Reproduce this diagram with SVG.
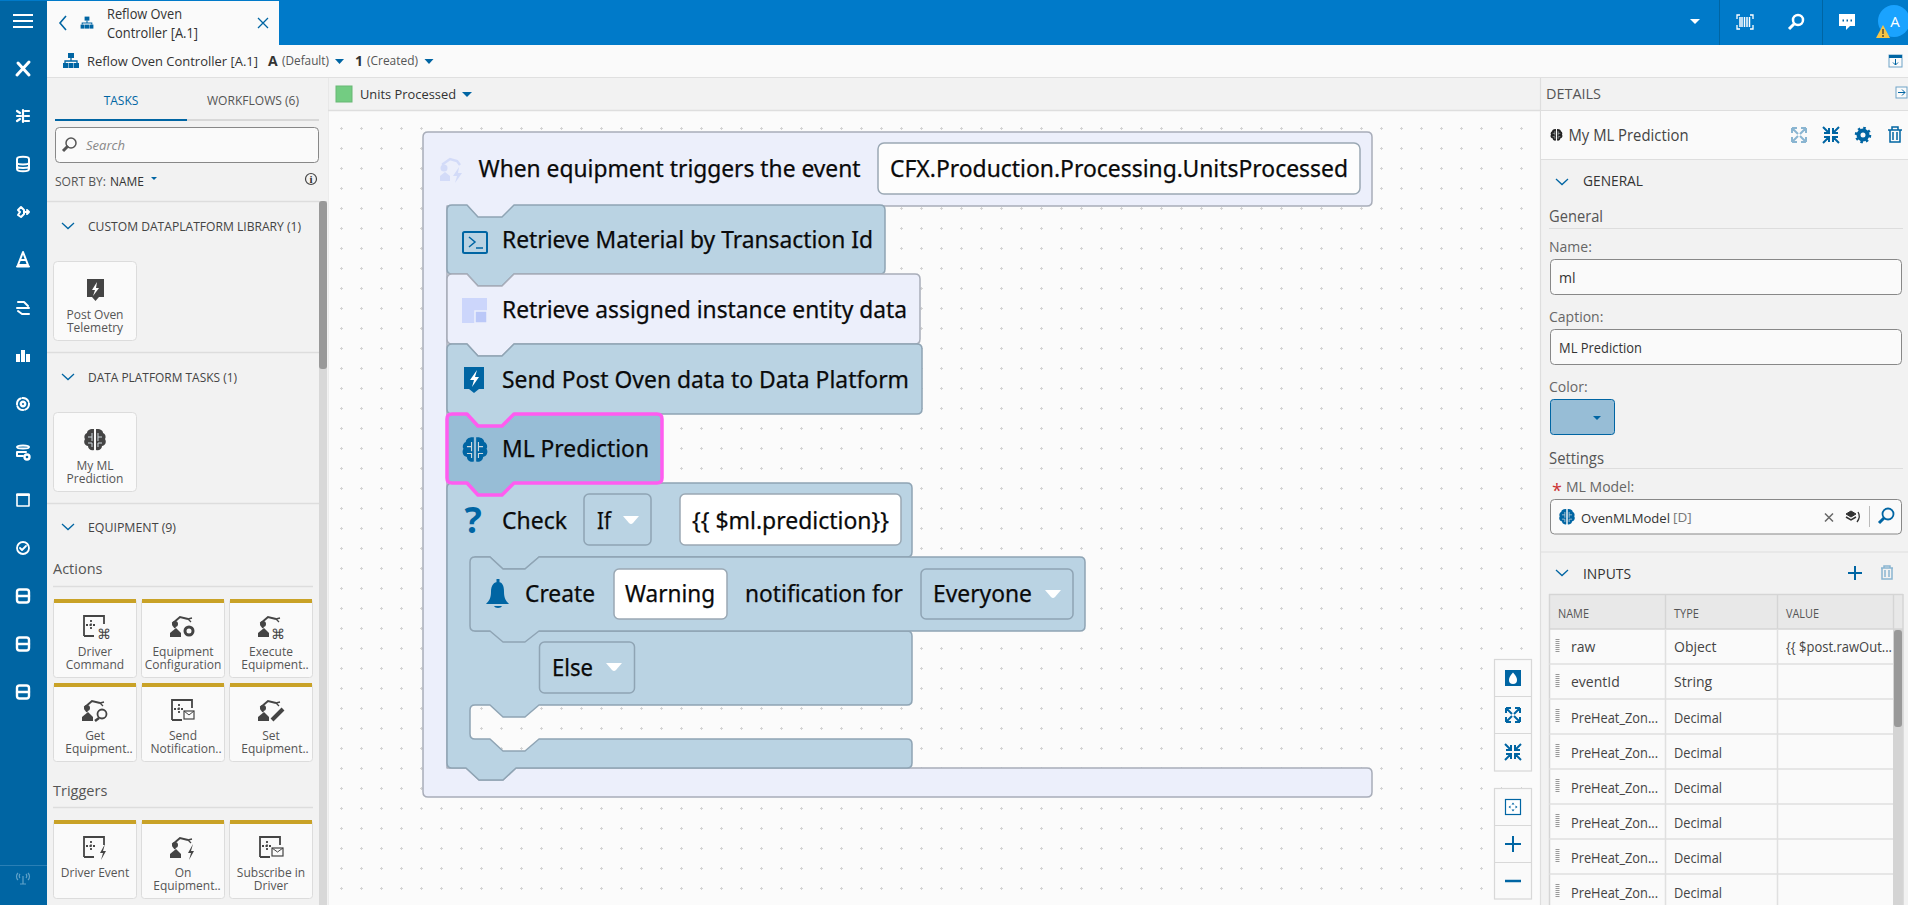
<svg xmlns="http://www.w3.org/2000/svg" xmlns:xlink="http://www.w3.org/1999/xlink" width="1908" height="905" viewBox="0 0 1908 905">
<style>
text{font-family:"Open Sans","Noto Sans","Liberation Sans",sans-serif;font-size:14px;fill:#4a4a4a}
.b{font-family:"Noto Sans","Open Sans",sans-serif;font-size:24px;fill:#0a0a0a;stroke:#0a0a0a;stroke-width:.25}
.blk{fill:#bad3e3;stroke:#8fa4b4;stroke-width:1.5;stroke-linejoin:round}
.lt{fill:#eceffb;stroke:#a8adb9;stroke-width:1.5;stroke-linejoin:round}
.wbox{fill:#fff;stroke:#9aa8b4;stroke-width:1.5}
.dd{fill:#bad3e3;stroke:#8fa4b4;stroke-width:1.5}
.card{fill:#fafafa;stroke:#dcdcdc;stroke-width:1}
.gold{fill:#c9a227}
.ct{font-size:12px;fill:#555;text-anchor:middle}
.sec{font-size:13px;fill:#444}
.hd{font-size:15.500px;fill:#555}
.lab{font-size:14px;fill:#666}
.inp{fill:#fafafa;stroke:#888;stroke-width:1}
.tl{stroke:#e0e0e0;stroke-width:1.5;fill:none}
.rn{font-size:14px;fill:#444}
.th{font-size:12px;fill:#555}
.side{fill:none;stroke:#fff;stroke-width:2.4;stroke-linecap:round;stroke-linejoin:round}
.tw{fill:#fff}
.div{stroke:#ddd;stroke-width:1.5}
</style>
<defs>
<pattern id="dots" x="0" y="0" width="20" height="20" patternUnits="userSpaceOnUse"><path d="M0,8.500H3M1.500,7V10" stroke="#d4d4d4" stroke-width="1"/></pattern>
<symbol id="chev" viewBox="0 0 14 8" overflow="visible"><path d="M1,1L7,6.500L13,1" fill="none" stroke="#0065a3" stroke-width="1.300"/></symbol>
<g id="hier"><rect x="-3" y="-8" width="6" height="5" fill="#0065a3"/><path d="M0,-3V0M-6,2V0H6V2" fill="none" stroke="#0065a3" stroke-width="1.300"/><rect x="-8" y="2" width="5" height="5" fill="#0065a3"/><rect x="-2.500" y="2" width="5" height="5" fill="#0065a3"/><rect x="3" y="2" width="5" height="5" fill="#0065a3"/></g>
<g id="brain"><path d="M-2,-11C-6,-11 -8,-9 -8,-7C-11,-6 -11,-2 -10,-1C-12,2 -10,6 -7,6C-7,9 -4,11 -1,10V-11ZM2,-11C6,-11 8,-9 8,-7C11,-6 11,-2 10,-1C12,2 10,6 7,6C7,9 4,11 1,10V-11Z"/><path d="M-7,-3H-3M-3,-7V1M-7,3H-3V7M7,-3H3M3,-7V1M7,3H3V7" stroke="#cfd8dd" stroke-width="1" fill="none"/></g>
<g id="robot"><path d="M-7,1L-9,-4L-2,-10L6,-8" fill="none" stroke="#444" stroke-width="2"/><circle cx="-7" cy="-3" r="3" fill="#444"/><path d="M-12,10V6L-6,1L-1,6V10Z" fill="#444"/><path d="M6,-8L9,-5M6,-8L10,-9" stroke="#444" stroke-width="1.300" fill="none"/></g>
<g id="board"><path d="M-11,9V-11H9V-3M-11,9H-1" fill="none" stroke="#444" stroke-width="1.800"/><path d="M-4,-7V3M-9,-2H1" stroke="#444" stroke-width="1.800" stroke-dasharray="2 1.500" fill="none"/></g>
<g id="drag"><path d="M0,-7V7" stroke="#999" stroke-width="4" stroke-dasharray="1 1"/></g>
<g id="expand"><path d="M-7,-7L-1,-1M-7,-7H-2M-7,-7V-2M7,-7L1,-1M7,-7H2M7,-7V-2M-7,7L-1,1M-7,7H-2M-7,7V2M7,7L1,1M7,7H2M7,7V2" fill="none" stroke-width="2"/></g>
<g id="shrink"><path d="M-8,-8L-2,-2M-2,-7V-2H-7M8,-8L2,-2M2,-7V-2H7M-8,8L-2,2M-2,7V2H-7M8,8L2,2M2,7V2H7" fill="none" stroke-width="2"/></g>
<g id="srv"><rect x="-6" y="-6.500" width="12" height="13" rx="2.500"/><path d="M-6,0H6"/></g>
</defs>

<rect width="1908" height="905" fill="#fafafa"/>

<g id="canvas">
<rect x="328" y="110" width="1212" height="795" fill="#fbfbfb"/>
<rect x="330" y="112" width="1208" height="793" fill="url(#dots)"/>
</g>

<g id="topbar">
<rect width="1908" height="45" fill="#007ac9"/>
<rect x="47" y="1" width="232" height="44" fill="#fafafa"/>
<path d="M66,16L60,23L66,30" fill="none" stroke="#0065a3" stroke-width="1.600"/>
<use xlink:href="#hier" transform="translate(87,23) scale(.8)"/>
<text x="107" y="19" textLength="75" lengthAdjust="spacingAndGlyphs" style="fill:#333">Reflow Oven</text>
<text x="107" y="38" textLength="91" lengthAdjust="spacingAndGlyphs" style="fill:#333">Controller [A.1]</text>
<path d="M258,18L268,28M268,18L258,28" stroke="#0065a3" stroke-width="1.300"/>
<path d="M1690,19H1700L1695,24Z" fill="#fff"/>
<path d="M1719.500,0V45M1822.500,0V45" stroke="#0065a3" stroke-width="1"/>
<g transform="translate(1745,22)" fill="none" stroke="#fff"><path d="M-8,-3V-7H-5M5,-7H8V-3M-8,3V7H-5M5,7H8V3" stroke-width="1.300"/><path d="M-5,-5V5M-3,-5V5M-.5,-5V5M2,-5V5M4.500,-5V5" stroke-width="1.500"/></g>
<g transform="translate(1796,22)" fill="none" stroke="#fff" stroke-width="2.500"><circle cx="2" cy="-2" r="5"/><path d="M-2,2L-7,7" stroke-width="3"/></g>
<path d="M1839,14H1855V26H1850L1846,30V26H1839Z" fill="#fff"/><path d="M1842.500,20.500H1844M1846.500,20.500H1848M1850.500,20.500H1852" stroke="#0065a3" stroke-width="2"/>
<circle cx="1894" cy="21" r="16" fill="#1aa3ff"/>
<text x="1895" y="27" text-anchor="middle" style="font-size:15px;fill:#fff">A</text>
<path d="M1883,25L1890,38H1876Z" fill="#f6c445"/><path d="M1883,29V34M1883,35V37" stroke="#333" stroke-width="1.200"/>
</g>

<g id="subheader">
<rect y="45" x="47" width="1861" height="32.500" fill="#fafafa"/>
<path d="M47,77.500H1908" stroke="#e0e0e0" stroke-width="1"/>
<use xlink:href="#hier" transform="translate(71,61)"/>
<text x="87" y="66" textLength="171" lengthAdjust="spacingAndGlyphs" style="font-size:13.500px;fill:#333">Reflow Oven Controller [A.1]</text>
<text x="268" y="66" style="font-weight:700;fill:#333">A</text>
<text x="282" y="65" textLength="47" lengthAdjust="spacingAndGlyphs" style="font-size:13px;fill:#555">(Default)</text>
<path d="M335,59H344L339.500,64Z" fill="#0065a3"/>
<text x="355" y="66" style="font-weight:700;fill:#333">1</text>
<text x="367" y="65" textLength="51" lengthAdjust="spacingAndGlyphs" style="font-size:13px;fill:#555">(Created)</text>
<path d="M424.500,59H433.500L429,64Z" fill="#0065a3"/>
<rect x="1889" y="55" width="13" height="12" fill="#fafafa" stroke="#6fa3c7" stroke-width="1"/><rect x="1889" y="55" width="13" height="3" fill="#0065a3"/><path d="M1895.500,59V65M1893,62.500L1895.500,65L1898,62.500" fill="none" stroke="#0065a3"/>
</g>

<g id="canvas-header">
<rect x="328" y="78" width="1212" height="32" fill="#f2f2f2"/>
<path d="M328,110.500H1540" stroke="#dedede" stroke-width="1.500"/>
<path d="M328,78V905" stroke="#dedede" stroke-width="1"/>
<rect x="336" y="86" width="16" height="16" fill="#73cc82" stroke="#68b775"/>
<text x="360" y="99" textLength="96" lengthAdjust="spacingAndGlyphs" style="font-size:13px;fill:#333">Units Processed</text>
<path d="M462,92H472L467,97Z" fill="#0065a3"/>
</g>

<g id="sidebar">
<rect y="0" width="47" height="905" fill="#0065a3"/>
<rect y="0" width="47" height="1" fill="#007ac9"/>
<path d="M13,15H33M13,21H33M13,27H33" stroke="#fff" stroke-width="1.800"/>
<g class="side">
<path d="M18,63L29,75M29,62L17,75" stroke-width="3"/>
<path transform="translate(23,116)" d="M-6,-5L-3,-3M-6,0H-2M-6,5L-3,3M2,-5H6M2,0H6M2,5H6M0,-6V6" stroke-width="2.200"/>
<path transform="translate(23,164)" d="M-6,-5C-6,-8 6,-8 6,-5V5C6,8 -6,8 -6,5ZM-6,-1.500C-6,1 6,1 6,-1.500M-6,2C-6,4.500 6,4.500 6,2" stroke-width="2"/>
<path transform="translate(23,212)" d="M-2,-5L-5,-2L-3,0L-5,3L-2,5L1,2V-2ZM2,0H6M4,-2L6,0L4,2" stroke-width="2"/>
<path transform="translate(23,260)" d="M0,-8L5,5H-5ZM-6,6.500H6M-3,0H3" stroke-width="2"/>
<path transform="translate(23,308)" d="M-5,-6H1L5,-2M-6,0H6M-1,6H6M-5,3L-1,6" stroke-width="2"/>
<path transform="translate(23,356)" d="M-5,-2V6M0,-6V6M5,-2V6" stroke-width="4" stroke-linecap="butt"/>
<g transform="translate(23,404)"><circle r="6" stroke-width="2" stroke-dasharray="7 2"/><circle r="2.200"/></g>
<g transform="translate(23,452)"><path d="M-6,-5C-6,-7 6,-7 6,-5C6,-3 -6,-3 -6,-5ZM-6,0H3M-6,0V4H0" stroke-width="2"/><circle cx="4" cy="5" r="2.500"/></g>
<g transform="translate(23,500)"><rect x="-6" y="-6" width="12" height="12" stroke-width="1.600"/><path d="M-6,-5H6" stroke-width="2"/></g>
<g transform="translate(23,548)"><circle r="6" stroke-width="1.800"/><path d="M-3,0L-1,2L3,-2" stroke-width="1.800"/></g>
<use xlink:href="#srv" transform="translate(23,596)"/>
<use xlink:href="#srv" transform="translate(23,644)"/>
<use xlink:href="#srv" transform="translate(23,692)"/>
</g>
<path d="M0,865.500H47" stroke="#2a7fb5" stroke-width="1"/>
<g transform="translate(23,878)" fill="none" stroke="#5fa2c9" stroke-width="1.200"><path d="M0,-2V6M-3,6H3M-3,-4C-4,-3 -4,-1 -3,0M3,-4C4,-3 4,-1 3,0M-5,-5C-7,-3 -7,0 -5,2M5,-5C7,-3 7,0 5,2"/></g>
</g>

<g id="left-panel">
<rect x="47" y="78" width="281" height="827" fill="#f2f2f2"/>
<text x="121" y="105" text-anchor="middle" style="font-size:12px;fill:#0065a3">TASKS</text>
<text x="253" y="105" text-anchor="middle" textLength="92" lengthAdjust="spacingAndGlyphs" style="font-size:12px;fill:#555">WORKFLOWS (6)</text>
<rect x="55" y="119" width="132" height="2" fill="#0065a3"/>
<rect x="187" y="119" width="132" height="2" fill="#d8d8d8"/>
<rect x="55.500" y="127.500" width="263" height="35" rx="4" class="inp"/>
<g transform="translate(70,145)" fill="none" stroke="#555"><circle cx="1" cy="-2" r="5" stroke-width="1.500"/><path d="M-2,1L-7,6" stroke-width="3"/></g>
<text x="86" y="150" style="font-size:13px;font-style:italic;fill:#888">Search</text>
<text x="55" y="186" textLength="51" lengthAdjust="spacingAndGlyphs" style="font-size:12.500px;fill:#555">SORT BY:</text>
<text x="110" y="186" textLength="34" lengthAdjust="spacingAndGlyphs" style="font-size:12.500px;fill:#333">NAME</text>
<path d="M151,177H157L154,180Z" fill="#0065a3"/>
<g transform="translate(311,179)"><circle r="5.500" fill="none" stroke="#444" stroke-width="1.200"/><text x="0" y="4" text-anchor="middle" style="font-family:'Liberation Serif',serif;font-size:11px;font-weight:700;fill:#333">i</text></g>
<path d="M47,201.500H319M47,352.500H319M47,503.500H319" class="div"/>
<rect x="319" y="201" width="8" height="704" fill="#d8d8d8"/>
<rect x="319" y="201" width="8" height="168" rx="3" fill="#999"/>

<g id="sec-custom"><use xlink:href="#chev" x="61" y="222" width="14" height="8"/><text x="88" y="231" class="sec" textLength="213" lengthAdjust="spacingAndGlyphs">CUSTOM DATAPLATFORM LIBRARY (1)</text></g>
<g id="task-post"><rect x="53.500" y="261.500" width="83" height="79" rx="4" class="card"/><path d="M87,279H104V297H99L95.500,301L92,297H87Z" fill="#444"/><path d="M97,282L92,290H95L93,296L99,288H96Z" fill="#fff"/><text x="95" y="319" class="ct">Post Oven</text><text x="95" y="332" class="ct">Telemetry</text></g>
<g id="sec-dp"><use xlink:href="#chev" x="61" y="373" width="14" height="8"/><text x="88" y="382" class="sec" textLength="149" lengthAdjust="spacingAndGlyphs">DATA PLATFORM TASKS (1)</text></g>
<g id="task-ml"><rect x="53.500" y="412.500" width="83" height="79" rx="4" class="card"/><use xlink:href="#brain" transform="translate(95,440)" fill="#444"/><text x="95" y="470" class="ct">My ML</text><text x="95" y="483" class="ct">Prediction</text></g>
<g id="sec-eq"><use xlink:href="#chev" x="61" y="523" width="14" height="8"/><text x="88" y="532" class="sec" textLength="88" lengthAdjust="spacingAndGlyphs">EQUIPMENT (9)</text></g>
<text x="53" y="574" style="font-size:14.500px;fill:#555">Actions</text>
<path d="M53,586.500H313M53,807.500H313" class="div"/>
<text x="53" y="796" style="font-size:14.500px;fill:#555">Triggers</text>

<g id="task-driver-command"><rect x="53.500" y="599.500" width="83" height="78" rx="3" class="card"/><rect class="gold" x="54" y="599" width="82" height="4"/><use xlink:href="#board" transform="translate(95,627)"/><text x="95" y="656" class="ct">Driver</text><text x="95" y="669" class="ct">Command</text><text x="97" y="639" style="font-size:14px;fill:#444">⌘</text></g>
<g id="task-eq-config"><rect x="141.500" y="599.500" width="83" height="78" rx="3" class="card"/><rect class="gold" x="142" y="599" width="82" height="4"/><use xlink:href="#robot" transform="translate(182,627)"/><circle cx="189" cy="631" r="4" fill="none" stroke="#444" stroke-width="3"/><text x="183" y="656" class="ct">Equipment</text><text x="183" y="669" class="ct">Configuration</text></g>
<g id="task-exec-eq"><rect x="229.500" y="599.500" width="83" height="78" rx="3" class="card"/><rect class="gold" x="230" y="599" width="82" height="4"/><use xlink:href="#robot" transform="translate(270,627)"/><text x="271" y="639" style="font-size:14px;fill:#444">⌘</text><text x="271" y="656" class="ct">Execute</text><text x="275" y="669" class="ct">Equipment..</text></g>
<g id="task-get-eq"><rect x="53.500" y="683.500" width="83" height="78" rx="3" class="card"/><rect class="gold" x="54" y="683" width="82" height="4"/><use xlink:href="#robot" transform="translate(94,711)"/><circle cx="102" cy="714" r="4.500" fill="#fafafa" stroke="#444" stroke-width="1.800"/><path d="M99,718L95,721" stroke="#444" stroke-width="2.500"/><text x="95" y="740" class="ct">Get</text><text x="99" y="753" class="ct">Equipment..</text></g>
<g id="task-send-notif"><rect x="141.500" y="683.500" width="83" height="78" rx="3" class="card"/><rect class="gold" x="142" y="683" width="82" height="4"/><use xlink:href="#board" transform="translate(183,711)"/><rect x="184" y="711" width="10" height="8" fill="#fafafa" stroke="#444" stroke-width="1.200"/><path d="M184,711L189,715L194,711" fill="none" stroke="#444"/><text x="183" y="740" class="ct">Send</text><text x="186" y="753" class="ct">Notification..</text></g>
<g id="task-set-eq"><rect x="229.500" y="683.500" width="83" height="78" rx="3" class="card"/><rect class="gold" x="230" y="683" width="82" height="4"/><use xlink:href="#robot" transform="translate(270,711)"/><path d="M272,720L283,709" stroke="#444" stroke-width="4"/><text x="271" y="740" class="ct">Set</text><text x="275" y="753" class="ct">Equipment..</text></g>
<g id="task-driver-event"><rect x="53.500" y="820.500" width="83" height="78" rx="3" class="card"/><rect class="gold" x="54" y="820" width="82" height="4"/><use xlink:href="#board" transform="translate(95,848)"/><path d="M105,844L100,853H103L101,860L106,851H103Z" fill="#444"/><text x="95" y="877" class="ct">Driver Event</text></g>
<g id="task-on-eq"><rect x="141.500" y="820.500" width="83" height="78" rx="3" class="card"/><rect class="gold" x="142" y="820" width="82" height="4"/><use xlink:href="#robot" transform="translate(182,848)"/><path d="M193,844L188,853H191L189,860L194,851H191Z" fill="#444"/><text x="183" y="877" class="ct">On</text><text x="187" y="890" class="ct">Equipment..</text></g>
<g id="task-sub-driver"><rect x="229.500" y="820.500" width="83" height="78" rx="3" class="card"/><rect class="gold" x="230" y="820" width="82" height="4"/><use xlink:href="#board" transform="translate(271,848)"/><rect x="272" y="848" width="11" height="8" fill="#fafafa" stroke="#444" stroke-width="1.200"/><path d="M272,848L277.500,852L283,848" fill="none" stroke="#444"/><text x="271" y="877" class="ct">Subscribe in</text><text x="271" y="890" class="ct">Driver</text></g>
</g>

<g id="workflow-blocks">
<g id="trigger">
<path class="lt" d="M428,132H1367Q1372,132 1372,137V201Q1372,206 1367,206H514L502,218H478L467,206H447V768H466L479,780H503L516,768H1367Q1372,768 1372,773V792Q1372,797 1367,797H428Q423,797 423,792V137Q423,132 428,132Z"/>
<g transform="translate(452,170)" fill="#d3dbf8"><path d="M-12,11V6L-7,2L-2,6V11Z"/><circle cx="-8" cy="-2" r="3.500"/><path d="M-8,-2L-9,-6L-2,-11L5,-9L8,-5" fill="none" stroke="#d3dbf8" stroke-width="2.500"/><path d="M7,-3L1,6H5L3,13L10,3H6Z"/></g>
<text class="b" x="478.500" y="177" textLength="382" lengthAdjust="spacingAndGlyphs">When equipment triggers the event</text>
<rect class="wbox" x="878" y="143" width="482" height="51" rx="6" style="fill:#fdfdfd"/>
<text class="b" x="890" y="177" textLength="458" lengthAdjust="spacingAndGlyphs">CFX.Production.Processing.UnitsProcessed</text>
</g>
<g id="block-material">
<path class="blk" d="M452,205H467L478,217H502L514,205H880Q885,205 885,210V269Q885,274 880,274H514L502,286H478L467,274H452Q447,274 447,269V210Q447,205 452,205Z"/>
<rect x="463" y="232" width="24" height="21" rx="1.500" fill="none" stroke="#0065a3" stroke-width="2"/><path d="M469,237L475,242L469,247M476,248H483" fill="none" stroke="#0065a3" stroke-width="1.500"/>
<text class="b" x="502" y="248" textLength="371" lengthAdjust="spacingAndGlyphs">Retrieve Material by Transaction Id</text>
</g>
<g id="block-entity">
<path class="lt" d="M452,274H467L478,286H502L514,274H915Q920,274 920,279V339Q920,344 915,344H514L502,356H478L467,344H452Q447,344 447,339V279Q447,274 452,274Z"/>
<rect x="462" y="298" width="25" height="25" fill="#ccd6fb"/><rect x="475" y="311" width="12" height="12" fill="#bbc8f8" stroke="#eceffb" stroke-width="1.500"/>
<text class="b" x="502" y="318" textLength="405" lengthAdjust="spacingAndGlyphs">Retrieve assigned instance entity data</text>
</g>
<g id="block-post">
<path class="blk" d="M452,344H467L478,356H502L514,344H917Q922,344 922,349V409Q922,414 917,414H514L502,426H478L467,414H452Q447,414 447,409V349Q447,344 452,344Z"/>
<path d="M464,367H484V389H479L474,393L469,389H464Z" fill="#0065a3"/><path d="M477,370L470,380H474L472,387L479,377H475Z" fill="#fff"/>
<text class="b" x="502" y="388" textLength="407" lengthAdjust="spacingAndGlyphs">Send Post Oven data to Data Platform</text>
</g>
<g id="block-check">
<path class="blk" d="M452,483H467L478,495H502L514,483H907Q912,483 912,488V552Q912,557 907,557H539L525,569H503L490,557H475V631H907Q912,631 912,636V700Q912,705 907,705H539L525,717H503L490,705H475Q470,705 470,710V734Q470,739 475,739H490L503,751H525L539,739H907Q912,739 912,744V763Q912,768 907,768H516L503,780H479L466,768H452Q447,768 447,763V488Q447,483 452,483Z"/>
<text x="473" y="533" text-anchor="middle" style="font-family:'Noto Sans',sans-serif;font-size:36px;font-weight:700;fill:#0065a3">?</text>
<text class="b" x="502" y="529" textLength="65" lengthAdjust="spacingAndGlyphs">Check</text>
<rect class="dd" x="584" y="494" width="67" height="51" rx="5"/>
<text class="b" x="597" y="529" textLength="14" lengthAdjust="spacingAndGlyphs">If</text>
<path d="M623,516H639L633,523Q631,525 629,523Z" class="tw"/>
<rect class="wbox" x="680" y="494" width="221" height="51" rx="5"/>
<text class="b" x="692" y="529" textLength="197" lengthAdjust="spacingAndGlyphs">{{ $ml.prediction}}</text>
</g>
<g id="block-create">
<path class="blk" d="M475,557H490L503,569H525L539,557H1080Q1085,557 1085,562V626Q1085,631 1080,631H539L525,642H503L490,631H475Q470,631 470,626V562Q470,557 475,557Z"/>
<path d="M498,582C502,582 504,585 504,592C504,598 506,601 509,604H486C489,601 491,598 491,592C491,585 494,582 498,582ZM494,606H502C501,608.500 495,608.500 494,606Z" fill="#0065a3"/><rect x="496.500" y="579" width="3" height="4" fill="#0065a3"/>
<text class="b" x="525" y="602" textLength="70" lengthAdjust="spacingAndGlyphs">Create</text>
<rect class="wbox" x="614" y="569" width="113" height="50" rx="5"/>
<text class="b" x="625" y="602" textLength="90" lengthAdjust="spacingAndGlyphs">Warning</text>
<text class="b" x="745" y="602" textLength="158" lengthAdjust="spacingAndGlyphs">notification for</text>
<rect class="dd" x="921" y="569" width="152" height="50" rx="5"/>
<text class="b" x="933" y="602" textLength="99" lengthAdjust="spacingAndGlyphs">Everyone</text>
<path d="M1045,590H1061L1055,597Q1053,599 1051,597Z" class="tw"/>
</g>
<g id="block-else">
<rect class="dd" x="539.500" y="642" width="95" height="51" rx="5"/>
<text class="b" x="552" y="676" textLength="41" lengthAdjust="spacingAndGlyphs">Else</text>
<path d="M606,663H622L616,670Q614,672 612,670Z" class="tw"/>
</g>
<g id="block-ml">
<path d="M452,414H467L478,426H502L514,414H657Q662,414 662,419V478Q662,483 657,483H514L502,495H478L467,483H452Q447,483 447,478V419Q447,414 452,414Z" fill="#97bdd6" stroke="#ff5cf0" stroke-width="3.500" stroke-linejoin="round"/>
<use xlink:href="#brain" transform="translate(475,450) scale(1.150)" fill="#0065a3"/>
<text class="b" x="502" y="457" textLength="147" lengthAdjust="spacingAndGlyphs">ML Prediction</text>
</g>
</g>

<g id="canvas-tools">
<rect x="1494.500" y="659.500" width="37" height="111.500" fill="#fafafa" stroke="#d8d8d8" stroke-width="1.200"/>
<path d="M1494.500,696.500H1531.500M1494.500,733.500H1531.500" stroke="#d8d8d8" stroke-width="1.200"/>
<rect x="1505" y="670" width="16" height="16" fill="#0065a3"/><path d="M1513,672.500C1516,676 1517,678 1517,680A4,4 0 0 1 1509,680C1509,678 1510,676 1513,672.500Z" fill="#fff"/>
<use xlink:href="#expand" transform="translate(1513,715)" stroke="#0065a3"/>
<use xlink:href="#shrink" transform="translate(1513,752)" stroke="#0065a3"/>
<rect x="1494.500" y="788.500" width="37" height="110.500" fill="#fafafa" stroke="#d8d8d8" stroke-width="1.200"/>
<path d="M1494.500,825.500H1531.500M1494.500,862.500H1531.500" stroke="#d8d8d8" stroke-width="1.200"/>
<rect x="1505.500" y="799.500" width="15" height="15" fill="#fff" stroke="#0065a3" stroke-width="1.200"/><path d="M1513,802.500L1511.500,804.500H1514.500ZM1513,811.500L1511.500,809.500H1514.500ZM1508.500,807L1510.500,805.500V808.500ZM1517.500,807L1515.500,805.500V808.500Z" fill="#0065a3"/>
<path d="M1513,836V852M1505,844H1521" stroke="#0065a3" stroke-width="2"/>
<path d="M1505,881H1521" stroke="#0065a3" stroke-width="2.500"/>
</g>

<g id="details">
<rect x="1540" y="78" width="368" height="827" fill="#f2f2f2"/>
<path d="M1540.500,78V905M1540,110.500H1908" stroke="#dedede" stroke-width="1.200"/>
<text x="1546" y="99" textLength="55" lengthAdjust="spacingAndGlyphs" style="font-size:14px;fill:#555">DETAILS</text>
<rect x="1896" y="87" width="11" height="11" fill="#fafafa" stroke="#6fa3c7"/><path d="M1898,92.500H1905M1902,89.500L1905,92.500L1902,95.500" fill="none" stroke="#0065a3"/>
<rect x="1541" y="111" width="367" height="48" fill="#fafafa"/>
<path d="M1541,159.500H1908" stroke="#dedede" stroke-width="1.200"/>
<use xlink:href="#brain" transform="translate(1556.500,135) scale(.55)" fill="#222"/>
<text x="1568.500" y="141" textLength="120" lengthAdjust="spacingAndGlyphs" style="font-size:15.500px;fill:#444">My ML Prediction</text>
<use xlink:href="#expand" transform="translate(1799,135)" stroke="#8ab5d1"/>
<use xlink:href="#shrink" transform="translate(1831,135)" stroke="#0065a3"/>
<g transform="translate(1863,135)"><circle r="4.500" fill="none" stroke="#0065a3" stroke-width="4"/><circle r="7" fill="none" stroke="#0065a3" stroke-width="2.500" stroke-dasharray="2.500 3"/></g>
<g transform="translate(1895,135)" fill="none" stroke="#0065a3" stroke-width="1.500"><path d="M-7,-5H7M-3,-5V-8H3V-5M-5,-5V7H5V-5M-2,-3V5M2,-3V5"/></g>
<use xlink:href="#chev" x="1555" y="178" width="14" height="8"/>
<text x="1583" y="186" textLength="60" lengthAdjust="spacingAndGlyphs" style="font-size:14px;fill:#333">GENERAL</text>
<text x="1549" y="222" textLength="54" lengthAdjust="spacingAndGlyphs" class="hd">General</text>
<path d="M1549,228.500H1903" stroke="#ddd" stroke-width="1"/>
<text x="1549" y="252" class="lab">Name:</text>
<rect x="1550.500" y="259.500" width="351" height="35" rx="4" class="inp"/>
<text x="1559" y="283" style="fill:#333">ml</text>
<text x="1549" y="322" class="lab">Caption:</text>
<rect x="1550.500" y="329.500" width="351" height="35" rx="4" class="inp"/>
<text x="1559" y="353" textLength="83" lengthAdjust="spacingAndGlyphs" style="fill:#333">ML Prediction</text>
<text x="1549" y="392" class="lab">Color:</text>
<rect x="1550.500" y="399.500" width="64" height="35" rx="3" fill="#97bdd6" stroke="#0065a3"/>
<path d="M1593,416H1601L1597,420Z" fill="#0065a3"/>
<text x="1549" y="464" textLength="55" lengthAdjust="spacingAndGlyphs" class="hd">Settings</text>
<path d="M1549,468.500H1903" stroke="#ddd" stroke-width="1"/>
<text x="1552" y="497" style="font-size:18px;fill:#c33">*</text>
<text x="1566" y="492" class="lab">ML Model:</text>
<rect x="1550.500" y="499.500" width="351" height="34.500" rx="4" class="inp"/>
<use xlink:href="#brain" transform="translate(1567,517) scale(.72)" fill="#0065a3"/>
<text x="1581" y="523" textLength="89" lengthAdjust="spacingAndGlyphs" style="font-size:13.500px;fill:#333">OvenMLModel</text>
<text x="1673" y="522" style="font-size:13.500px;fill:#777">[D]</text>
<path d="M1825,513.500L1833,521.500M1833,513.500L1825,521.500" stroke="#666" stroke-width="1.500"/>
<g transform="translate(1851,516)" fill="none" stroke="#333"><path d="M-5,-2L0,-5L5,-2L0,1Z" fill="#333"/><path d="M-5,1L0,4L5,1" stroke-width="1.500"/><path d="M7,-4C9,-1 9,2 6,6" stroke-width="1.300"/></g>
<path d="M1869.500,506V527" stroke="#bbb"/>
<g transform="translate(1886,516)" fill="none" stroke="#0065a3"><circle cx="2" cy="-2" r="5.500" stroke-width="1.800"/><path d="M-2,2L-7,7" stroke-width="3"/></g>
<path d="M1541,552H1908" stroke="#dedede" stroke-width="1.200"/>
<use xlink:href="#chev" x="1555" y="569" width="14" height="8"/>
<text x="1583" y="579" textLength="48" lengthAdjust="spacingAndGlyphs" style="font-size:14px;fill:#333">INPUTS</text>
<path d="M1855,566V580M1848,573H1862" stroke="#0065a3" stroke-width="2"/>
<g transform="translate(1887,573)" fill="none" stroke="#8ab5d1" stroke-width="1.500"><path d="M-6,-5H6M-3,-5V-7H3V-5M-5,-5V6H5V-5M-2,-3V4M2,-3V4"/></g>

<g id="inputs-table">
<rect x="1549" y="594" width="354" height="35" fill="#e8e8e8"/>
<rect x="1549" y="629" width="344" height="276" fill="#fafafa"/>
<rect x="1893" y="629" width="10" height="276" fill="#d4d4d4"/>
<rect x="1894" y="630" width="8" height="97" rx="3" fill="#999"/>
<path class="tl" style="stroke:#d5d5d5" d="M1549,594.500H1903M1549,629H1903M1549.500,594V905M1903,594V905"/>
<path class="tl" style="stroke:#d5d5d5" d="M1665.500,594V629M1777.500,594V629M1893.500,594V629"/>
<path class="tl" d="M1549,664H1893M1549,699H1893M1549,734H1893M1549,769H1893M1549,804H1893M1549,839H1893M1549,874H1893M1665.500,629V905M1777.500,629V905"/>
<text x="1558" y="618" class="th" textLength="31" lengthAdjust="spacingAndGlyphs">NAME</text><text x="1674" y="618" class="th" textLength="25" lengthAdjust="spacingAndGlyphs">TYPE</text><text x="1786" y="618" class="th" textLength="33" lengthAdjust="spacingAndGlyphs">VALUE</text>
<use xlink:href="#drag" transform="translate(1557.500,646)"/><text x="1571" y="652" class="rn">raw</text><text x="1674" y="652" class="rn">Object</text><text x="1786" y="652" class="rn" textLength="106" lengthAdjust="spacingAndGlyphs">{{ $post.rawOut...</text>
<use xlink:href="#drag" transform="translate(1557.500,681)"/><text x="1571" y="687" class="rn">eventId</text><text x="1674" y="687" class="rn">String</text>
<use xlink:href="#drag" transform="translate(1557.500,716)"/><text x="1571" y="723" class="rn" textLength="87" lengthAdjust="spacingAndGlyphs">PreHeat_Zon...</text><text x="1674" y="723" class="rn" textLength="48" lengthAdjust="spacingAndGlyphs">Decimal</text>
<use xlink:href="#drag" transform="translate(1557.500,751)"/><text x="1571" y="758" class="rn" textLength="87" lengthAdjust="spacingAndGlyphs">PreHeat_Zon...</text><text x="1674" y="758" class="rn" textLength="48" lengthAdjust="spacingAndGlyphs">Decimal</text>
<use xlink:href="#drag" transform="translate(1557.500,786)"/><text x="1571" y="793" class="rn" textLength="87" lengthAdjust="spacingAndGlyphs">PreHeat_Zon...</text><text x="1674" y="793" class="rn" textLength="48" lengthAdjust="spacingAndGlyphs">Decimal</text>
<use xlink:href="#drag" transform="translate(1557.500,821)"/><text x="1571" y="828" class="rn" textLength="87" lengthAdjust="spacingAndGlyphs">PreHeat_Zon...</text><text x="1674" y="828" class="rn" textLength="48" lengthAdjust="spacingAndGlyphs">Decimal</text>
<use xlink:href="#drag" transform="translate(1557.500,856)"/><text x="1571" y="863" class="rn" textLength="87" lengthAdjust="spacingAndGlyphs">PreHeat_Zon...</text><text x="1674" y="863" class="rn" textLength="48" lengthAdjust="spacingAndGlyphs">Decimal</text>
<use xlink:href="#drag" transform="translate(1557.500,891)"/><text x="1571" y="898" class="rn" textLength="87" lengthAdjust="spacingAndGlyphs">PreHeat_Zon...</text><text x="1674" y="898" class="rn" textLength="48" lengthAdjust="spacingAndGlyphs">Decimal</text>
</g>
</g>
</svg>
